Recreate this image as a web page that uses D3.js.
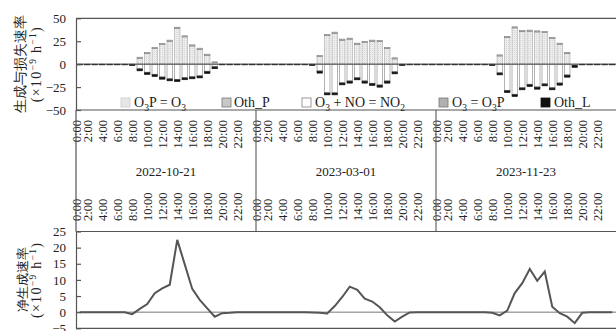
<!DOCTYPE html>
<html>
<head>
<meta charset="utf-8">
<script src="https://cdn.jsdelivr.net/npm/d3@7"></script>
<style>
  body { margin: 0; background: #fff; }
  svg text { font-family: "Liberation Serif", "Times New Roman", serif; fill: #222; }
</style>
</head>
<body>
<svg id="chart" width="616" height="331"></svg>
<script>
// ---- data: three days, hourly (72 values per series) ----
const days = ["2022-10-21", "2023-03-01", "2023-11-23"];
const hourTickLabels = ["0:00", "2:00", "4:00", "6:00", "8:00", "10:00", "12:00",
                        "14:00", "16:00", "18:00", "20:00", "22:00"];
const rateTicks = [-50, -25, 0, 25, 50];
const netTicks = [-5, 0, 5, 10, 15, 20, 25];
const seriesKeys = ["o3pToO3", "othP", "o3NoToNo2", "o3ToO3p", "othL"];
const seriesLabels = ["O₃P = O₃", "Oth_P", "O₃ + NO = NO₂", "O₃ = O₃P", "Oth_L"];

// production terms (positive)
const o3pToO3 = [
  0, 0, 0, 0, 0, 0, 0, 0, 6.4, 11.5, 16.9, 21.3, 25.0, 39.1, 29.7, 19.8, 16.2, 9.7, 1.9, 0, 0, 0, 0, 0,
  0, 0, 0, 0, 0, 0, 0, 0, 8.2, 31.1, 33.7, 26.1, 27.2, 21.7, 23.5, 25.0, 24.6, 16.9, 5.7, 0, 0, 0, 0, 0,
  0, 0, 0, 0, 0, 0, 0, 0, 8.9, 28.9, 39.5, 35.4, 35.9, 35.1, 34.4, 27.8, 21.7, 11.5, 0, 0, 0, 0, 0, 0
];
const othP = [
  0, 0, 0, 0, 0, 0, 0, 0, 1.2, 1.2, 1.2, 1.2, 1.2, 1.2, 1.2, 1.2, 1.2, 1.2, 0.6, 0, 0, 0, 0, 0,
  0, 0, 0, 0, 0, 0, 0, 0, 1.2, 1.2, 1.2, 1.2, 1.2, 1.2, 1.2, 1.2, 1.2, 1.2, 1.2, 0, 0, 0, 0, 0,
  0, 0, 0, 0, 0, 0, 0, 0, 1.2, 1.2, 1.2, 1.2, 1.2, 1.2, 1.2, 1.2, 1.2, 1.2, 0, 0, 0, 0, 0, 0
];
// loss terms (negative)
const o3NoToNo2 = [
  0, 0, 0, 0, 0, 0, 0, 0, -4.8, -8.8, -11.0, -13.9, -15.7, -16.5, -14.5, -13.5, -12.5, -7.7, -2.5, 0, 0, 0, 0, 0,
  0, 0, 0, 0, 0, 0, 0, 0, -7.3, -31.0, -31.0, -20.1, -18.2, -14.6, -18.2, -20.8, -22.6, -18.2, -8.1, 0, 0, 0, 0, 0,
  0, 0, 0, 0, 0, 0, 0, 0, -9.2, -28.5, -32.8, -25.5, -21.9, -24.8, -21.2, -25.5, -20.4, -11.7, -1.2, 0, 0, 0, 0, 0
];
const o3ToO3p = [
  0, 0, 0, 0, 0, 0, 0, 0, -0.7, -0.7, -0.7, -0.7, -0.7, -0.7, -0.7, -0.7, -0.7, -0.7, -0.7, 0, 0, 0, 0, 0,
  0, 0, 0, 0, 0, 0, 0, 0, -0.7, -0.7, -0.7, -0.7, -0.7, -0.7, -0.7, -0.7, -0.7, -0.7, -0.7, 0, 0, 0, 0, 0,
  0, 0, 0, 0, 0, 0, 0, 0, -0.7, -0.7, -0.7, -0.7, -0.7, -0.7, -0.7, -0.7, -0.7, -0.7, -0.5, 0, 0, 0, 0, 0
];
const othL = [
  -0.8, -0.8, -0.8, -0.8, -0.8, -0.8, -0.8, -1.5, -1.8, -1.8, -1.8, -1.8, -1.8, -1.8, -1.8, -1.8, -1.8, -1.8, -1.8, -0.8, -0.8, -0.8, -0.8, -0.8,
  -0.8, -0.8, -0.8, -0.8, -0.8, -0.8, -0.8, -1.5, -1.8, -1.8, -1.8, -1.8, -1.8, -1.8, -1.8, -1.8, -1.8, -1.8, -1.8, -1.5, -0.8, -0.8, -0.8, -0.8,
  -0.8, -0.8, -0.8, -0.8, -0.8, -0.8, -0.8, -1.5, -1.8, -1.8, -1.8, -1.8, -1.8, -1.8, -1.8, -1.8, -1.8, -1.8, -1.8, -0.8, -0.8, -0.8, -0.8, -0.8
];
// net production rate
const netRate = [
  0, 0, 0, 0, 0, 0, 0, -0.6, 1.0, 2.5, 5.9, 7.4, 8.5, 22.4, 14.8, 7.2, 3.8, 1.2, -1.4, -0.3, -0.2, 0, 0, 0,
  0, 0, 0, 0, 0, 0, 0, -0.1, -0.2, -0.4, 1.9, 4.7, 7.9, 6.9, 4.2, 3.3, 1.5, -1.0, -2.9, -1.4, -0.1, 0, 0, 0,
  0, 0, 0, 0, 0, 0, 0, -0.2, -1.0, 0.5, 5.9, 9.0, 13.4, 9.7, 12.6, 1.7, -0.3, -1.4, -3.4, -0.2, 0, 0, 0, 0
];

// ---- layout ----
const svg = d3.select("#chart");
const left = 76, right = 616;
const topY0 = 18.3, topY1 = 110;      // rate panel
const netY0 = 231.5, netY1 = 328.3;   // net panel
const frameColor = "#555";

const hoursTotal = days.length * 24;
const x = d3.scaleLinear().domain([0, hoursTotal]).range([left, right]);
const xBand = d3.scaleBand().domain(d3.range(hoursTotal)).range([left, right]).paddingInner(0.27).paddingOuter(0.135);
const yRate = d3.scaleLinear().domain([-50, 50]).range([topY1, topY0]);
const yNet = d3.scaleLinear().domain([-5, 25]).range([netY1, netY0]);

// stipple for the O3P = O3 term
const defs = svg.append("defs");
const pat = defs.append("pattern").attr("id", "stipple").attr("patternUnits", "userSpaceOnUse")
  .attr("width", 2).attr("height", 2);
pat.append("rect").attr("width", 2).attr("height", 2).attr("fill", "#ededed");
pat.append("rect").attr("width", 1).attr("height", 1).attr("fill", "#d6d6d6");

const styles = {
  o3pToO3:   { fill: "url(#stipple)", stroke: "#a8a8a8" },
  othP:      { fill: "#c8c8c8", stroke: "#777" },
  o3NoToNo2: { fill: "#fff", stroke: "#808080" },
  o3ToO3p:   { fill: "#b0b0b0", stroke: "#777" },
  othL:      { fill: "#111", stroke: "#111" }
};

// text with sub/superscript digits rendered as shifted tspans
const subMap = { "₀": "0", "₁": "1", "₂": "2", "₃": "3", "₄": "4", "₅": "5", "₆": "6", "₇": "7", "₈": "8", "₉": "9" };
const supMap = { "⁻": "−", "⁰": "0", "¹": "1", "²": "2", "³": "3", "⁴": "4", "⁵": "5", "⁶": "6", "⁷": "7", "⁸": "8", "⁹": "9" };
function richText(textSel, str, size) {
  const runs = [];
  for (const ch of str) {
    const kind = subMap[ch] ? "sub" : supMap[ch] ? "sup" : "n";
    const c = subMap[ch] || supMap[ch] || ch;
    if (runs.length && runs[runs.length - 1].kind === kind) runs[runs.length - 1].t += c;
    else runs.push({ kind, t: c });
  }
  let shift = 0;
  runs.forEach(r => {
    const target = r.kind === "sub" ? size * 0.3 : r.kind === "sup" ? -size * 0.38 : 0;
    textSel.append("tspan")
      .attr("dy", target - shift)
      .attr("font-size", r.kind === "n" ? size : size * 0.68)
      .text(r.t);
    shift = target;
  });
}

// ---- rate panel: diverging stacked bars ----
const rows = d3.range(hoursTotal).map(i => ({
  i, o3pToO3: o3pToO3[i], othP: othP[i], o3NoToNo2: o3NoToNo2[i], o3ToO3p: o3ToO3p[i], othL: othL[i]
}));
const stacked = d3.stack().keys(seriesKeys).offset(d3.stackOffsetDiverging)(rows);

const barG = svg.append("g");
stacked.forEach(layer => {
  const st = styles[layer.key];
  barG.append("g").selectAll("rect")
    .data(layer.filter(d => d[1] !== d[0]))
    .join("rect")
    .attr("x", d => xBand(d.data.i))
    .attr("width", xBand.bandwidth())
    .attr("y", d => yRate(Math.max(d[0], d[1])))
    .attr("height", d => Math.abs(yRate(d[0]) - yRate(d[1])))
    .attr("fill", st.fill)
    .attr("stroke", st.stroke)
    .attr("stroke-width", 0.6);
});

// zero line
svg.append("line").attr("x1", left).attr("x2", right)
  .attr("y1", yRate(0)).attr("y2", yRate(0))
  .attr("stroke", "#444").attr("stroke-width", 1);

// frame of rate panel
svg.append("line").attr("x1", left).attr("x2", right).attr("y1", topY0).attr("y2", topY0)
  .attr("stroke", frameColor).attr("stroke-width", 1.2);
svg.append("line").attr("x1", left).attr("x2", right).attr("y1", topY1).attr("y2", topY1)
  .attr("stroke", frameColor).attr("stroke-width", 1.2);

const axRate = svg.append("g").attr("transform", `translate(${left},0)`)
  .call(d3.axisLeft(yRate).tickValues(rateTicks).tickFormat(d3.format("d"))
    .tickSizeInner(-5).tickSizeOuter(0).tickPadding(10));
axRate.selectAll("path, line").attr("stroke", frameColor).attr("stroke-width", 1.2);
axRate.selectAll("text").attr("font-size", 13).attr("font-family", "Liberation Serif").attr("fill", "#222");

// legend
const legendItems = [
  { key: "o3pToO3", sx: 121, tx: 134 },
  { key: "othP", sx: 222, tx: 234 },
  { key: "o3NoToNo2", sx: 302, tx: 315 },
  { key: "o3ToO3p", sx: 439, tx: 452 },
  { key: "othL", sx: 541, tx: 554 }
];
const legend = svg.append("g");
legendItems.forEach((it, k) => {
  const st = styles[it.key];
  legend.append("rect").attr("x", it.sx).attr("y", 98).attr("width", 9).attr("height", 9)
    .attr("fill", it.key === "o3pToO3" ? "#e6e6e6" : st.fill)
    .attr("stroke", it.key === "o3pToO3" ? "#ccc" : st.stroke).attr("stroke-width", 0.8);
  const t = legend.append("text").attr("x", it.tx).attr("y", 106.5);
  richText(t, seriesLabels[k], 14);
});

// ---- hour axes between the panels ----
const tickPos = [];
const tickText = [];
days.forEach((d, di) => {
  hourTickLabels.forEach((lab, k) => {
    const h = k * 2;
    tickPos.push(di * 24 + (h === 0 ? 0 : h - 0.5));
    tickText.push(lab);
  });
});
const labelOf = v => tickText[tickPos.indexOf(v)];

const axHourA = svg.append("g").attr("transform", `translate(0,${topY1})`)
  .call(d3.axisBottom(x).tickValues(tickPos).tickFormat(labelOf).tickSize(0));
axHourA.select(".domain").remove();
axHourA.selectAll("text")
  .attr("transform", "rotate(-90)").attr("x", -10).attr("y", 0).attr("dy", "0.35em")
  .attr("text-anchor", "end").attr("font-size", 12.5).attr("font-family", "Liberation Serif").attr("fill", "#222");

const axHourB = svg.append("g").attr("transform", `translate(0,${netY0})`)
  .call(d3.axisTop(x).tickValues(tickPos).tickFormat(labelOf).tickSize(0));
axHourB.select(".domain").remove();
axHourB.selectAll("text")
  .attr("transform", "rotate(-90)").attr("x", 10.5).attr("y", 0).attr("dy", "0.35em")
  .attr("text-anchor", "start").attr("font-size", 12.5).attr("font-family", "Liberation Serif").attr("fill", "#222");

// day separators and date labels
svg.append("g").selectAll("line").data(days.map((d, i) => i * 24)).join("line")
  .attr("x1", d => x(d)).attr("x2", d => x(d)).attr("y1", topY1).attr("y2", netY0)
  .attr("stroke", d => d === 0 ? frameColor : "#666").attr("stroke-width", 1.2);
svg.append("g").selectAll("text").data(days).join("text")
  .attr("x", (d, i) => x(i * 24 + 12)).attr("y", 176)
  .attr("text-anchor", "middle").attr("font-size", 13).text(d => d);

// ---- net rate panel ----
svg.append("line").attr("x1", left).attr("x2", right).attr("y1", yNet(0)).attr("y2", yNet(0))
  .attr("stroke", "#777").attr("stroke-width", 1);
svg.append("line").attr("x1", left).attr("x2", right).attr("y1", netY0).attr("y2", netY0)
  .attr("stroke", frameColor).attr("stroke-width", 1.2);
svg.append("line").attr("x1", left).attr("x2", right).attr("y1", netY1).attr("y2", netY1)
  .attr("stroke", frameColor).attr("stroke-width", 1.2);

const axNet = svg.append("g").attr("transform", `translate(${left},0)`)
  .call(d3.axisLeft(yNet).tickValues(netTicks).tickFormat(d3.format("d"))
    .tickSizeInner(-5).tickSizeOuter(0).tickPadding(10));
axNet.selectAll("path, line").attr("stroke", frameColor).attr("stroke-width", 1.2);
axNet.selectAll("text").attr("font-size", 13).attr("font-family", "Liberation Serif").attr("fill", "#222");

svg.append("path")
  .datum(netRate)
  .attr("fill", "none").attr("stroke", "#555").attr("stroke-width", 2).attr("stroke-linejoin", "miter")
  .attr("d", d3.line().x((d, i) => x(i + 0.5)).y(d => yNet(d)));

// ---- axis titles (vertical, reading bottom to top) ----
// cx is the horizontal centre of the glyphs; the baseline sits to its right
function yTitle(cx, cy, str, cjk, size, spacing) {
  const baseX = cx + (cjk ? 0.38 : 0.25) * size;
  const t = svg.append("text")
    .attr("transform", `translate(${baseX},${cy}) rotate(-90)`)
    .attr("text-anchor", "middle")
    .attr("letter-spacing", spacing || 0)
    .attr("fill", "#3a3a3a");
  if (cjk) t.attr("font-family", "'Noto Sans CJK SC'").attr("font-size", size).text(str);
  else richText(t, str, size);
}
yTitle(19.5, (topY0 + topY1) / 2, "生成与损失速率", true, 14);
yTitle(37.5, (topY0 + topY1) / 2, "(×10⁻⁹ h⁻¹)", false, 14, 1.3);
yTitle(22.5, (netY0 + netY1) / 2, "净生成速率", true, 13);
yTitle(37.5, (netY0 + netY1) / 2, "(×10⁻⁹ h⁻¹)", false, 14, 1.3);
</script>
</body>
</html>
